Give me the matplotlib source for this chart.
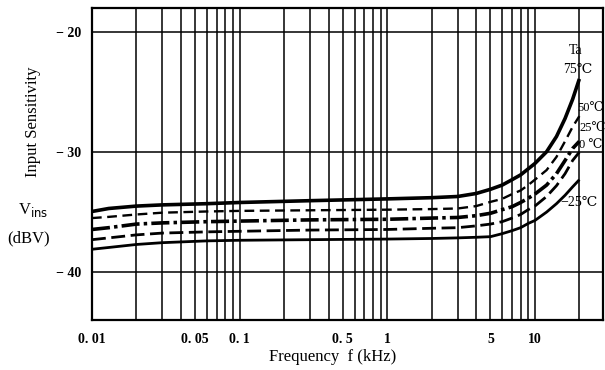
import matplotlib
matplotlib.use('Agg')
import matplotlib.pyplot as plt
import numpy as np
from matplotlib.ticker import FixedLocator, FixedFormatter, LogLocator, NullFormatter


###############################################################################
# Data
###############################################################################

freq_khz = [0.01, 0.013, 0.02, 0.03, 0.06, 0.1, 0.3, 1, 2, 3, 4, 5, 6, 7,
            8, 9, 10, 12, 14, 16, 18, 20]

vins_75 = [-34.95, -34.7, -34.5, -34.4, -34.3, -34.2, -34.05, -33.9, -33.8,
           -33.7, -33.45, -33.1, -32.75, -32.3, -31.9, -31.4, -30.95, -29.97,
           -28.7, -27.2, -25.6, -23.9]
vins_50 = [-35.5, -35.4, -35.2, -35.05, -34.95, -34.9, -34.85, -34.8, -34.75,
           -34.7, -34.5, -34.15, -33.9, -33.5, -33.2, -32.75, -32.3, -31.5,
           -30.4, -29.1, -27.9, -27.0]
vins_25 = [-36.45, -36.3, -36.0, -35.9, -35.8, -35.75, -35.65, -35.6, -35.5,
           -35.45, -35.3, -35.1, -34.8, -34.55, -34.2, -33.85, -33.5, -32.75,
           -31.8, -30.7, -29.7, -29.1]
vins_0 = [-37.3, -37.15, -36.9, -36.75, -36.65, -36.6, -36.5, -36.45, -36.35,
          -36.3, -36.15, -36.0, -35.8, -35.5, -35.2, -34.8, -34.5, -33.7,
          -32.8, -31.8, -30.7, -30.0]
vins_m25 = [-38.1, -37.95, -37.7, -37.55, -37.4, -37.35, -37.3, -37.25, -37.2,
            -37.15, -37.1, -37.05, -36.8, -36.55, -36.3, -35.95, -35.7, -35.0,
            -34.3, -33.6, -32.9, -32.3]

xtick_values = [0.01, 0.05, 0.1, 0.5, 1, 5, 10]
xtick_labels = ['0. 01', '0. 05', '0. 1', '0. 5', '1', '5', '10']
ytick_values = [-40, -30, -20]
ytick_labels = ['\u2212 40', '\u2212 30', '\u2212 20']


###############################################################################
# Plot
###############################################################################

plt.rcParams['font.family'] = ['Liberation Serif', 'DejaVu Serif']
plt.rcParams['lines.scale_dashes'] = False

figure = plt.figure(figsize=(6.05, 3.70), dpi=100)
ax = figure.add_axes([0.152, 0.135, 0.845, 0.843])

ax.plot(freq_khz, vins_75, color='black', linewidth=2.6, solid_capstyle='butt')
ax.plot(freq_khz, vins_50, color='black', linewidth=1.7, dashes=(7, 4))
ax.plot(freq_khz, vins_25, color='black', linewidth=2.6, dashes=(13, 3, 2.5, 3))
ax.plot(freq_khz, vins_0, color='black', linewidth=2.0, dashes=(10, 4))
ax.plot(freq_khz, vins_m25, color='black', linewidth=2.0, solid_capstyle='butt')

# Axes scales
ax.set_xscale('log')
ax.set_xlim(0.01, 29)
ax.set_ylim(-44, -18)

ax.xaxis.set_major_locator(FixedLocator(xtick_values))
ax.xaxis.set_major_formatter(FixedFormatter(xtick_labels))
ax.xaxis.set_minor_locator(LogLocator(base=10, subs=np.arange(1, 10), numticks=30))
ax.xaxis.set_minor_formatter(NullFormatter())
ax.yaxis.set_major_locator(FixedLocator(ytick_values))
ax.yaxis.set_major_formatter(FixedFormatter(ytick_labels))

ax.grid(which='both', axis='x', color='black', linewidth=1.1)
ax.grid(which='major', axis='y', color='black', linewidth=1.1)
ax.set_axisbelow(True)

for spine in ax.spines.values():
    spine.set_linewidth(1.6)
ax.tick_params(which='both', length=0)
ax.tick_params(axis='x', pad=9, labelsize=10)
ax.tick_params(axis='y', pad=8, labelsize=10)
for label in ax.get_xticklabels() + ax.get_yticklabels():
    label.set_fontweight('bold')

# Temperature labels
ax.text(19.0, -21.5, 'Ta', fontsize=10, ha='center', va='center')
ax.text(19.5, -23.1, '75\u2103', fontsize=10, ha='center', va='center')
ax.text(19.3, -26.3, '50\u2103', fontsize=9, ha='left', va='center')
ax.text(19.9, -28.0, '25\u2103', fontsize=9, ha='left', va='center')
ax.text(19.9, -29.4, '0 \u2103', fontsize=9, ha='left', va='center')
ax.text(19.8, -34.2, '\u221225\u2103', fontsize=10, ha='center', va='center')

# Axis labels
figure.text(0.055, 0.67, 'Input Sensitivity', rotation=90, fontsize=12,
            ha='center', va='center')
figure.text(0.055, 0.432, r'V$_{\rm ins}$', fontsize=12, ha='center', va='center')
figure.text(0.048, 0.355, '(dBV)', fontsize=12, ha='center', va='center')
figure.text(0.55, 0.035, 'Frequency  f (kHz)', fontsize=12, ha='center', va='center')

figure.savefig('out.png', dpi=100)
